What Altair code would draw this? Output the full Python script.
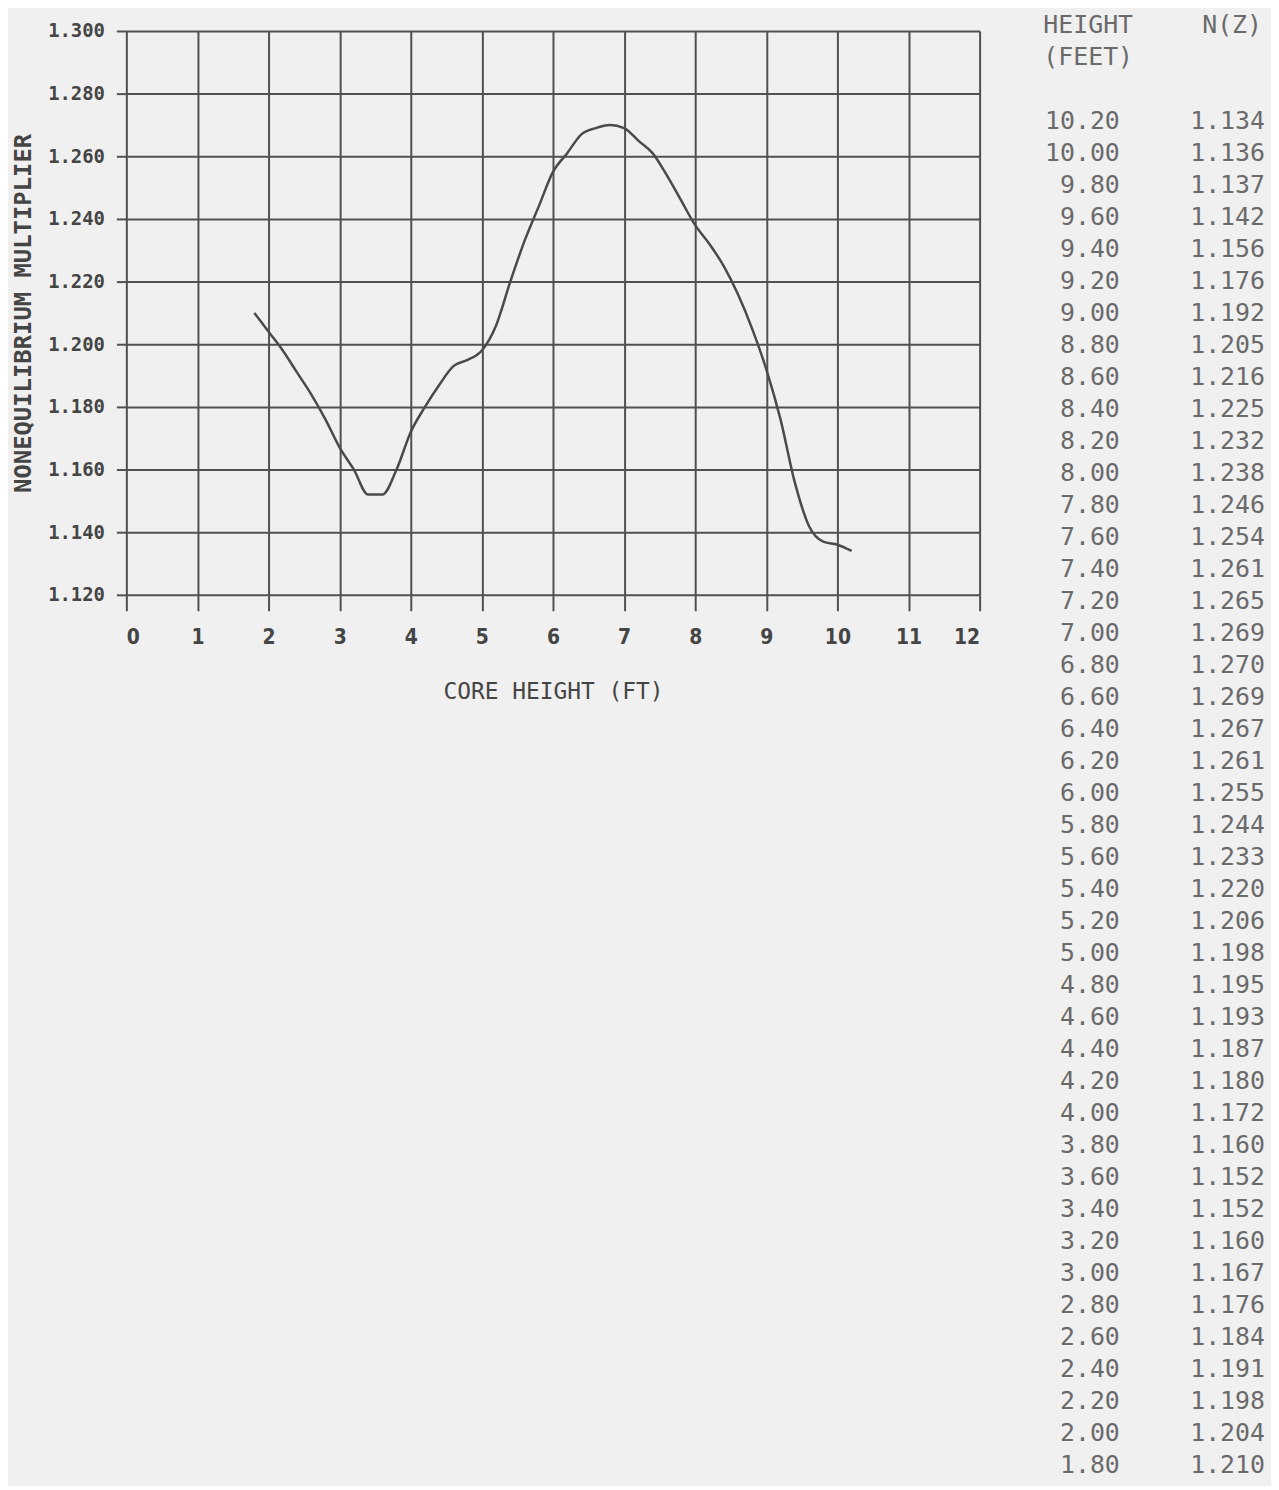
import altair as alt
import pandas as pd

# ---- data ----
heights = [10.2, 10.0, 9.8, 9.6, 9.4, 9.2, 9.0, 8.8, 8.6, 8.4, 8.2, 8.0, 7.8, 7.6,
           7.4, 7.2, 7.0, 6.8, 6.6, 6.4, 6.2, 6.0, 5.8, 5.6, 5.4, 5.2, 5.0, 4.8,
           4.6, 4.4, 4.2, 4.0, 3.8, 3.6, 3.4, 3.2, 3.0, 2.8, 2.6, 2.4, 2.2, 2.0, 1.8]
nz = [1.134, 1.136, 1.137, 1.142, 1.156, 1.176, 1.192, 1.205, 1.216, 1.225, 1.232,
      1.238, 1.246, 1.254, 1.261, 1.265, 1.269, 1.270, 1.269, 1.267, 1.261, 1.255,
      1.244, 1.233, 1.220, 1.206, 1.198, 1.195, 1.193, 1.187, 1.180, 1.172, 1.160,
      1.152, 1.152, 1.160, 1.167, 1.176, 1.184, 1.191, 1.198, 1.204, 1.210]
x_ticks = [0, 1, 2, 3, 4, 5, 6, 7, 8, 9, 10, 11, 12]
y_ticks = [1.12, 1.14, 1.16, 1.18, 1.20, 1.22, 1.24, 1.26, 1.28, 1.30]
header_left = ["HEIGHT", "(FEET)"]
header_right = ["N(Z)"]

GRID = "#505050"
TXT = "#454545"
TABLE_TXT = "#6a6a6a"

curve = pd.DataFrame({"height": heights, "nz": nz})

plot = alt.Chart(curve).mark_line(
    color="#4a4a4a", strokeWidth=2.5, interpolate="monotone"
).encode(
    x=alt.X("height:Q",
            scale=alt.Scale(domain=[0, 12], nice=False, zero=False),
            axis=alt.Axis(values=x_ticks, title="CORE HEIGHT (FT)", tickSize=16,
                          labelPadding=16, labelFontSize=21,
                          labelFont="Liberation Sans Narrow, DejaVu Sans Condensed, sans-serif",
                          labelFontWeight="bold", titlePadding=33,
                          titleFont="DejaVu Sans Mono", titleFontSize=23,
                          titleFontWeight="normal")),
    y=alt.Y("nz:Q",
            scale=alt.Scale(domain=[1.12, 1.30], nice=False, zero=False),
            axis=alt.Axis(values=y_ticks, format=".3f", title="NONEQUILIBRIUM MULTIPLIER",
                          tickSize=10, labelPadding=12, labelFontSize=19,
                          labelFont="DejaVu Sans Mono", labelFontWeight="bold",
                          titlePadding=12, titleFont="DejaVu Sans Mono",
                          titleFontSize=24, titleFontWeight="bold")),
).properties(width=858, height=567)

# ---- table on the right ----
table = pd.DataFrame({
    "row": list(range(3, 3 + len(heights))),
    "h": [f"{v:.2f}" for v in heights],
    "n": [f"{v:.3f}" for v in nz],
})
hdr_l = pd.DataFrame({"row": [0, 1], "t": header_left})
hdr_r = pd.DataFrame({"row": [0], "t": header_right})

ysc = alt.Scale(domain=[0.2, 45.25], reverse=True, nice=False, zero=False)
ycol = alt.Y("row:Q", scale=ysc, axis=None)
tfont = dict(font="DejaVu Sans Mono", fontSize=25, color=TABLE_TXT, baseline="middle")

t1 = alt.Chart(hdr_l).mark_text(align="left", **tfont).encode(
    x=alt.value(0), y=ycol, text="t:N")
t2 = alt.Chart(hdr_r).mark_text(align="right", **tfont).encode(
    x=alt.value(220), y=ycol, text="t:N")
t3 = alt.Chart(table).mark_text(align="right", **tfont).encode(
    x=alt.value(77), y=ycol, text="h:N")
t4 = alt.Chart(table).mark_text(align="right", **tfont).encode(
    x=alt.value(223), y=ycol, text="n:N")

tab = alt.layer(t1, t2, t3, t4).properties(width=225, height=1450)

chart = alt.hconcat(plot, tab, spacing=63).properties(
    padding={"left": 3, "top": 0, "right": 4, "bottom": 4},
    background="#f0f0f0",
).configure_view(stroke=None).configure_axis(
    grid=True, gridColor=GRID, gridWidth=2, gridOpacity=1,
    tickColor=GRID, tickWidth=2, domain=False,
    labelColor=TXT, titleColor=TXT,
)

chart.save("out.html", embed_options={"renderer": "svg", "actions": False})
